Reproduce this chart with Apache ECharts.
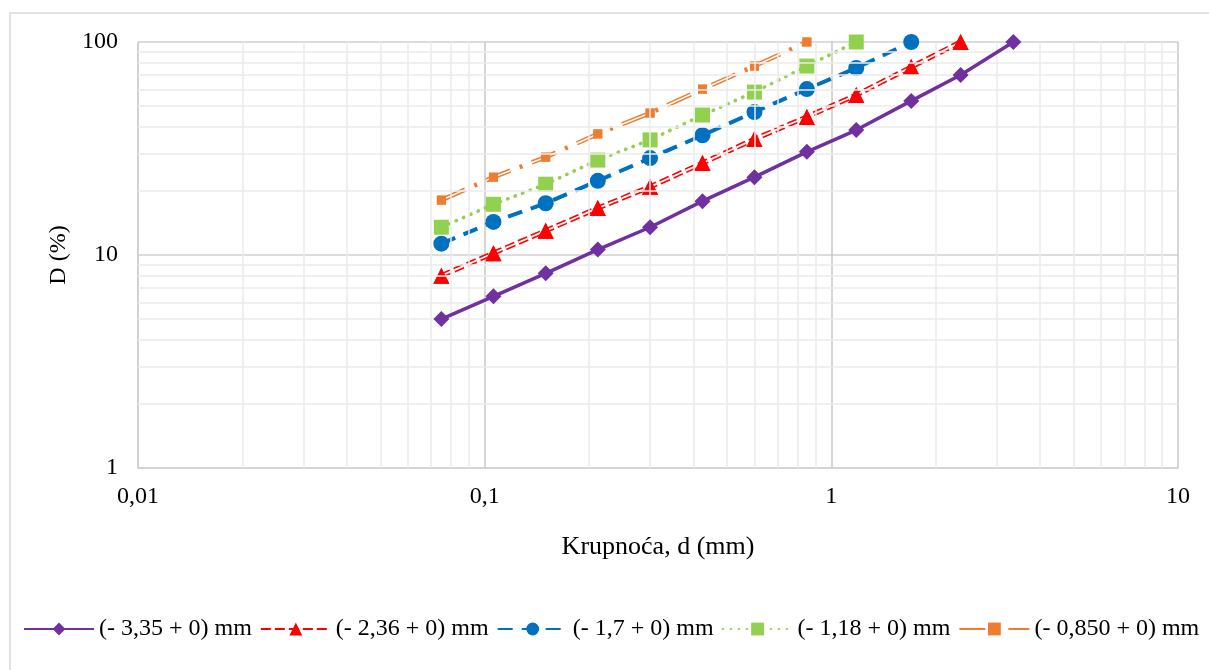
<!DOCTYPE html>
<html>
<head>
<meta charset="utf-8">
<script src="https://cdn.jsdelivr.net/npm/echarts@6/dist/echarts.min.js"></script>
<style>
  html, body { margin: 0; padding: 0; background: #fff; }
  #chart { width: 1209px; height: 670px; }
</style>
</head>
<body>
<div id="chart"></div>
<script>
// sieve sizes, mm
const sizes = [0.075, 0.106, 0.15, 0.212, 0.3, 0.425, 0.6, 0.85, 1.18, 1.7, 2.36, 3.35]

// cumulative undersize D (%) per feed size class
const d335 = [5.0, 6.4, 8.2, 10.6, 13.5, 17.9, 23.2, 30.5, 38.6, 52.9, 70.0, 100]
const d236 = [8.0, 10.2, 13.0, 16.6, 20.9, 27.0, 35.0, 44.5, 56.4, 76.3, 100]
const d170 = [11.3, 14.3, 17.5, 22.3, 28.5, 36.5, 46.9, 60.1, 75.5, 100]
const d118 = [13.5, 17.3, 21.5, 27.9, 34.7, 45.4, 58.2, 77.1, 100]
const d085 = [18.1, 23.2, 28.8, 37.0, 46.4, 60.1, 77.1, 100]

const names = ['(- 3,35 + 0) mm', '(- 2,36 + 0) mm', '(- 1,7 + 0) mm', '(- 1,18 + 0) mm', '(- 0,850 + 0) mm']

function pairs (vals) {
  return vals.map((v, i) => [sizes[i], v])
}

// minor grid positions (2..9 within each decade)
const minorX = []
const minorY = []
;[0.01, 0.1, 1].forEach(b => { for (let k = 2; k <= 9; k++) minorX.push(+(b * k).toFixed(3)) })
;[1, 10].forEach(b => { for (let k = 2; k <= 9; k++) minorY.push(b * k) })

const font = '"Liberation Serif", "Times New Roman", serif'
const minorColor = '#ebebeb'

const chart = echarts.init(document.getElementById('chart'))
chart.setOption({
  animation: false,
  backgroundColor: '#fff',
  textStyle: { fontFamily: font, color: '#000' },
  graphic: [{
    type: 'rect',
    shape: { x: 10, y: 13, width: 1220, height: 700 },
    style: { fill: 'none', stroke: '#d9d9d9', lineWidth: 1.5 },
    silent: true
  }],
  grid: { left: 138, right: 31, top: 42, bottom: 202 },
  legend: {
    data: names,
    left: 18,
    top: 612,
    itemWidth: 70,
    itemHeight: 16,
    itemGap: 8,
    textStyle: { fontFamily: font, fontSize: 24, color: '#000' }
  },
  xAxis: {
    type: 'log',
    logBase: 10,
    min: 0.01,
    max: 10,
    name: 'Krupnoća, d (mm)',
    nameLocation: 'middle',
    nameGap: 66,
    nameTextStyle: { fontFamily: font, fontSize: 26, color: '#000' },
    axisLine: { lineStyle: { color: '#d0d0d0', width: 1.5 } },
    axisTick: { show: false },
    axisLabel: {
      fontFamily: font, fontSize: 24, color: '#000', margin: 17,
      formatter: v => String(v).replace('.', ',')
    },
    splitLine: { show: true, lineStyle: { color: '#c8c8c8', width: 1.5 } }
  },
  yAxis: {
    type: 'log',
    logBase: 10,
    min: 1,
    max: 100,
    name: 'D (%)',
    nameLocation: 'middle',
    nameGap: 64,
    nameRotate: 90,
    nameTextStyle: { fontFamily: font, fontSize: 24, color: '#000' },
    axisLine: { show: true, lineStyle: { color: '#d0d0d0', width: 1.5 } },
    axisTick: { show: false },
    axisLabel: { fontFamily: font, fontSize: 24, color: '#000', margin: 20 },
    splitLine: { show: true, lineStyle: { color: '#d0d0d0', width: 1.5 } }
  },
  series: [
    {
      name: 'grid',
      type: 'line',
      data: [],
      z: 0,
      silent: true,
      markLine: {
        silent: true,
        symbol: 'none',
        label: { show: false },
        lineStyle: { color: minorColor, type: 'solid', width: 1.5 },
        data: minorX.map(x => ({ xAxis: x })).concat(minorY.map(y => ({ yAxis: y })))
      }
    },
    {
      name: names[0],
      type: 'line',
      data: pairs(d335),
      z: 5,
      color: '#7030A0',
      symbol: 'diamond',
      symbolSize: 16,
      lineStyle: { width: 3.5 }
    },
    {
      name: names[1],
      type: 'line',
      data: pairs(d236),
      z: 4,
      color: '#FF0000',
      symbol: 'triangle',
      symbolSize: 16,
      lineStyle: { width: 5, type: [10, 4] }
    },
    {
      name: 'red-inner',
      type: 'line',
      data: pairs(d236),
      z: 4,
      color: '#FF0000',
      symbol: 'triangle',
      symbolSize: 16,
      lineStyle: { width: 1.8, color: '#fff', type: [10, 4] }
    },
    {
      name: names[2],
      type: 'line',
      data: pairs(d170),
      z: 4,
      color: '#0070C0',
      symbol: 'circle',
      symbolSize: 16,
      lineStyle: { width: 4, type: [15, 9] }
    },
    {
      name: names[3],
      type: 'line',
      data: pairs(d118),
      z: 4,
      color: '#92D050',
      symbol: 'rect',
      symbolSize: 15,
      lineStyle: { width: 3.5, type: [0.5, 7.5], cap: 'round' }
    },
    {
      name: names[4],
      type: 'line',
      data: pairs(d085),
      z: 4,
      color: '#ED7D31',
      symbol: 'rect',
      symbolSize: 9,
      lineStyle: { width: 4.5, type: [26, 10, 3, 10] }
    },
    {
      name: 'orange-inner',
      type: 'line',
      data: pairs(d085),
      z: 4,
      color: '#ED7D31',
      symbol: 'rect',
      symbolSize: 9,
      lineStyle: { width: 1.5, color: '#fff', type: [26, 23] }
    }
  ]
})
</script>
</body>
</html>
